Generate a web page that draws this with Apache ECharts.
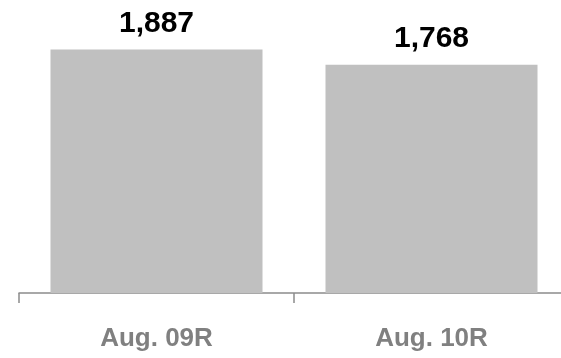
<!DOCTYPE html>
<html>
<head>
<meta charset="UTF-8">
<title>Aug chart</title>
<script src="https://cdn.jsdelivr.net/npm/echarts@6/dist/echarts.min.js"></script>
<style>
	html, body { margin: 0; padding: 0; background: #fff; }
	#main { width: 561px; height: 358px; }
</style>
</head>
<body>
	<div id="main"></div>
	<script>
		// data
		var categories = ['Aug. 09R', 'Aug. 10R'];
		var values = [1887, 1768];

		var myChart = echarts.init(document.getElementById('main'));
		var option = {
			animation: false,
			grid: {
				left: 19,
				top: 22,
				width: 550,
				bottom: 65,
				outerBoundsMode: 'none',
				containLabel: false
			},
			xAxis: {
				type: 'category',
				data: categories,
				boundaryGap: true,
				axisLine: { lineStyle: { color: '#8c8c8c', width: 1.5 } },
				axisTick: { show: true, length: 10, lineStyle: { color: '#8c8c8c', width: 1.5 } },
				axisLabel: {
					color: '#808080',
					fontFamily: 'Liberation Sans, Arial, sans-serif',
					fontWeight: 'bold',
					fontSize: 26,
					margin: 33
				}
			},
			yAxis: {
				type: 'value',
				min: 0,
				max: 2100,
				show: false,
				splitLine: { show: false }
			},
			series: [{
				type: 'bar',
				data: values,
				barWidth: 212,
				itemStyle: { color: '#c0c0c0' },
				label: {
					show: true,
					position: 'top',
					distance: 11,
					color: '#000',
					fontFamily: 'Liberation Sans, Arial, sans-serif',
					fontWeight: 'bold',
					fontSize: 30,
					formatter: function (p) {
						return p.value.toLocaleString('en-US');
					}
				}
			}]
		};
		myChart.setOption(option);
	</script>
</body>
</html>
